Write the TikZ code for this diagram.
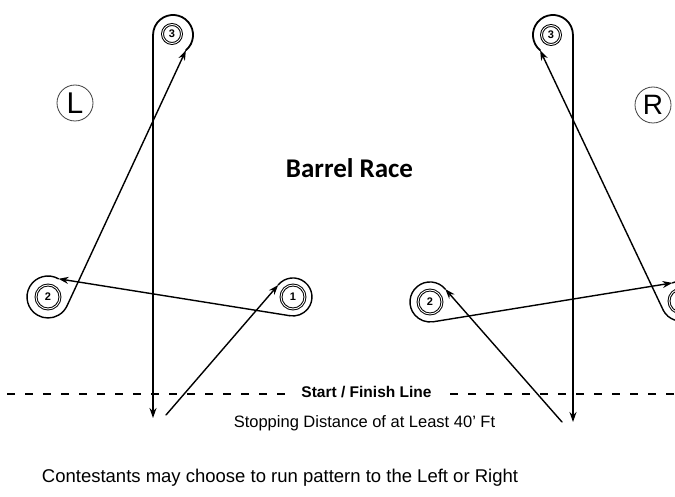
\documentclass[tikz,border=0pt]{standalone}
\usepackage{fontspec}
\setmainfont{Liberation Sans}
\newfontfamily\calibri{Carlito}
\usetikzlibrary{arrows.meta}
\tikzset{
  barrel/.style={circle, draw, double, double distance=0.9pt, line width=1pt, inner sep=0pt, font=\bfseries\fontsize{11}{11}\selectfont},
  route/.style={line width=1.4pt, line cap=round},
  arr/.style={route, -{Stealth[length=10pt,width=7pt]}},
  side/.style={circle, draw=black!75, line width=0.8pt, inner sep=0pt, minimum size=36pt},
  finish/.style={line width=1.9pt, dash pattern=on 8pt off 10pt}
}
\begin{document}
\begin{tikzpicture}[x=1pt,y=1pt,yscale=-1]
\useasboundingbox (0,0) rectangle (675,497);
\clip (0,0) rectangle (675,497);
% side labels
\node[side, font=\fontsize{30}{30}\selectfont] (Lside) at (75,103) {L};
\node[side, font=\fontsize{28}{28}\selectfont] (Rside) at (653,105) {R};
\node[font=\calibri\bfseries\fontsize{27}{30}\selectfont] (title) at (349.5,168) {Barrel Race};
% barrels, left pattern
\node[barrel, minimum size=19pt] (L3) at (172,34) {3};
\node[barrel, minimum size=24pt] (L2) at (48,297) {2};
\node[barrel, minimum size=24pt] (L1) at (293,297) {1};
% barrels, right pattern
\node[barrel, minimum size=19pt] (R3) at (551,35) {3};
\node[barrel, minimum size=24pt] (R2) at (430,302) {2};
\node[barrel, minimum size=24pt] (R1) at (681,301) {1};
% left route points
\coordinate (LS) at (166,415);
\coordinate (L1in) at (278.2,285.0);
\coordinate (L1out) at (289.7,315.7);
\coordinate (L2in) at (58.5,278.8);
\coordinate (L2out) at (67.0,305.9);
\coordinate (L3in) at (185.9,50.3);
\coordinate (LE) at (153,418);
% right route points
\coordinate (RS) at (562,422);
\coordinate (R2in) at (445.3,289.1);
\coordinate (R2out) at (433.1,321.8);
\coordinate (R1in) at (672.5,282.9);
\coordinate (R1out) at (663.2,310.1);
\coordinate (R3in) at (540.1,50.3);
\coordinate (RE) at (573,422);
% left route
\draw[arr] (LS) -- (L1in);
\draw[route] (L1in) arc[start angle=-141, end angle=100, radius=19];
\draw[arr] (L1out) -- (L2in);
\draw[route] (L2in) arc[start angle=-60, end angle=-335, radius=21];
\draw[arr] (L2out) -- (L3in);
\draw[arr, line width=1.8pt] (L3in) arc[start angle=50, end angle=-180, radius=20] -- (LE);
% right route
\draw[arr] (RS) -- (R2in);
\draw[route] (R2in) arc[start angle=-40, end angle=-279, radius=20];
\draw[arr] (R2out) -- (R1in);
\draw[route] (R1in) arc[start angle=-115, end angle=153, radius=20];
\draw[arr] (R1out) -- (R3in);
\draw[arr, line width=1.8pt] (R3in) arc[start angle=130, end angle=360, radius=20] -- (RE);
% start / finish line
\node[font=\bfseries\fontsize{15.5}{16}\selectfont] (sf) at (366.5,392) {Start / Finish Line};
\coordinate (d1a) at (7,394);
\coordinate (d1b) at (287,394);
\coordinate (d2a) at (450,394);
\coordinate (d2b) at (680,394);
\draw[finish] (d1a) -- (d1b);
\draw[finish] (d2a) -- (d2b);
\node[font=\fontsize{16.5}{17}\selectfont] (stop) at (364.5,423) {Stopping Distance of at Least 40' Ft};
\node[font=\fontsize{18.5}{19}\selectfont] (note) at (280,478) {Contestants may choose to run pattern to the Left or Right};
\end{tikzpicture}
\end{document}
